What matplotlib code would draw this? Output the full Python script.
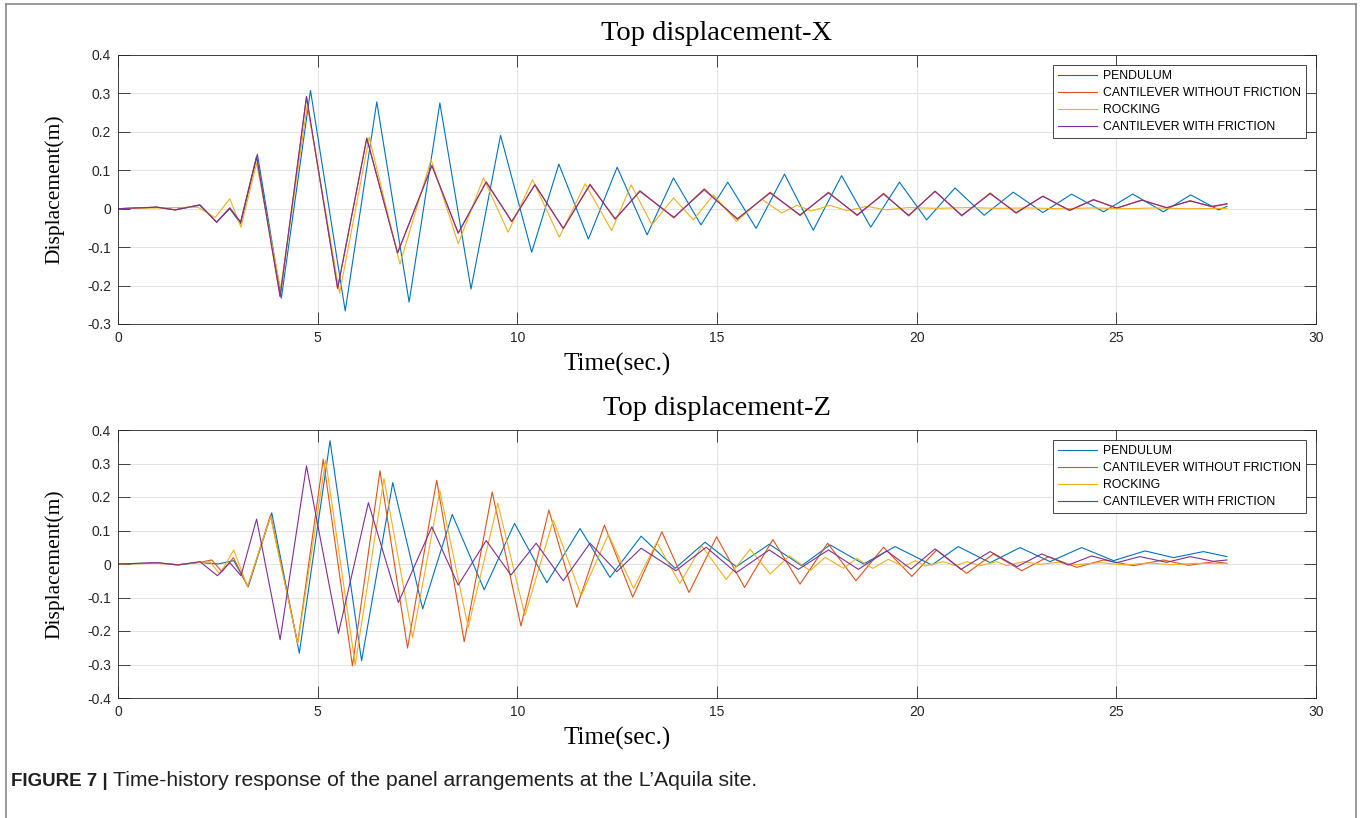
import matplotlib
matplotlib.use("Agg")
import matplotlib.pyplot as plt
from matplotlib.lines import Line2D

# peak / trough values (time in s, displacement in m)

# ---- Top displacement-X ----
x_pend_t = [0, 0.97, 1.43, 2.05, 2.47, 2.8, 3.07, 3.49, 4.09, 4.82, 5.69, 6.48, 7.29, 8.06, 8.84, 9.58,
            10.36, 11.04, 11.78, 12.5, 13.25, 13.91, 14.6, 15.27, 15.98, 16.69, 17.41, 18.12, 18.85, 19.57,
            20.25, 20.96, 21.69, 22.42, 23.16, 23.88, 24.68, 25.41, 26.18, 26.86, 27.56, 27.77]
x_pend_d = [0, 0.004, -0.003, 0.009, -0.035, 0.0, -0.039, 0.142, -0.233, 0.308, -0.266, 0.278, -0.243, 0.275, -0.209, 0.191,
            -0.113, 0.116, -0.079, 0.108, -0.068, 0.08, -0.042, 0.069, -0.051, 0.09, -0.056, 0.086, -0.048, 0.069,
            -0.029, 0.054, -0.017, 0.043, -0.01, 0.038, -0.008, 0.038, -0.008, 0.036, -0.003, 0.006]

x_cant_t = [0, 0.97, 1.43, 2.05, 2.47, 2.8, 3.07, 3.47, 4.06, 4.72, 5.5, 6.23, 7.0, 7.86, 8.52, 9.22, 9.86,
            10.44, 11.15, 11.82, 12.45, 13.07, 13.92, 14.68, 15.51, 16.33, 17.08, 17.79, 18.51, 19.17, 19.8,
            20.46, 21.13, 21.84, 22.49, 23.16, 23.83, 24.43, 25.01, 25.64, 26.26, 26.85, 27.39, 27.77]
x_cant_d = [0, 0.004, -0.003, 0.01, -0.035, 0.002, -0.035, 0.136, -0.229, 0.29, -0.208, 0.184, -0.116, 0.113, -0.064, 0.07, -0.034,
            0.063, -0.052, 0.064, -0.028, 0.047, -0.024, 0.052, -0.028, 0.043, -0.018, 0.043, -0.018, 0.04, -0.019,
            0.046, -0.019, 0.041, -0.012, 0.033, -0.005, 0.024, 0.001, 0.023, 0.002, 0.021, 0.005, 0.012]

x_rock_t = [0, 0.97, 1.5, 2.0, 2.43, 2.8, 3.08, 3.47, 4.07, 4.74, 5.55, 6.29, 7.06, 7.84, 8.52, 9.15, 9.77,
            10.38, 11.05, 11.7, 12.36, 12.85, 13.37, 13.91, 14.41, 14.91, 15.49, 16.12, 16.62, 17.0, 17.37,
            17.83, 18.25, 18.75, 19.24, 19.8, 20.5, 21.3, 22.0, 22.8, 23.6, 24.4, 25.2, 26.0, 26.8, 27.77]
x_rock_d = [0, 0.002, 0.003, 0.004, -0.023, 0.026, -0.048, 0.119, -0.209, 0.27, -0.22, 0.186, -0.144, 0.128, -0.091, 0.08, -0.061,
            0.075, -0.074, 0.065, -0.057, 0.062, -0.042, 0.028, -0.029, 0.036, -0.033, 0.025, -0.011, 0.009, -0.006,
            0.009, -0.005, 0.006, -0.003, 0.003, 0.001, 0.003, 0.001, 0.002, 0.0, 0.002, 0.0, 0.002, 0.0, 0.001]

x_fric_t = [0, 0.97, 1.43, 2.05, 2.47, 2.8, 3.07, 3.47, 4.06, 4.72, 5.5, 6.23, 7.0, 7.86, 8.52, 9.22, 9.86,
            10.44, 11.15, 11.82, 12.45, 13.07, 13.92, 14.68, 15.51, 16.33, 17.08, 17.79, 18.51, 19.17, 19.8,
            20.46, 21.13, 21.84, 22.49, 23.16, 23.83, 24.43, 25.01, 25.64, 26.26, 26.85, 27.39, 27.77]
x_fric_d = [0, 0.004, -0.003, 0.01, -0.035, 0.002, -0.035, 0.135, -0.228, 0.292, -0.207, 0.183, -0.115, 0.112, -0.063, 0.069, -0.033,
            0.062, -0.051, 0.062, -0.026, 0.045, -0.022, 0.049, -0.026, 0.041, -0.016, 0.041, -0.016, 0.038, -0.017,
            0.045, -0.017, 0.039, -0.01, 0.032, -0.004, 0.023, 0.002, 0.022, 0.003, 0.02, 0.006, 0.013]

# ---- Top displacement-Z ----
z_pend_t = [0, 1.0, 1.5, 2.0, 2.5, 2.9, 3.26, 3.85, 4.54, 5.31, 6.1, 6.88, 7.63, 8.37, 9.17, 9.93,
            10.74, 11.57, 12.32, 13.1, 13.95, 14.7, 15.48, 16.31, 17.12, 17.83, 18.67, 19.46,
            20.38, 21.04, 21.84, 22.59, 23.34, 24.13, 24.93, 25.72, 26.43, 27.18, 27.77]
z_pend_d = [0, 0.003, -0.003, 0.005, 0.0, 0.01, -0.068, 0.153, -0.266, 0.368, -0.289, 0.243, -0.134, 0.148, -0.077, 0.121,
            -0.056, 0.106, -0.04, 0.083, -0.013, 0.065, -0.008, 0.059, -0.005, 0.057, 0.0, 0.052,
            -0.003, 0.052, 0.004, 0.049, 0.007, 0.049, 0.01, 0.039, 0.019, 0.037, 0.022]

z_cant_t = [0, 1.0, 1.5, 2.0, 2.35, 2.6, 2.89, 3.25, 3.82, 4.5, 5.14, 5.87, 6.56, 7.25, 7.98, 8.67, 9.37,
            10.09, 10.79, 11.49, 12.18, 12.89, 13.62, 14.3, 14.99, 15.69, 16.4, 17.08, 17.77, 18.48, 19.17,
            19.88, 20.5, 21.25, 21.92, 22.63, 23.3, 24.01, 24.68, 25.43, 26.18, 26.8, 27.46, 27.77]
z_cant_d = [0, 0.003, -0.002, 0.004, 0.012, -0.023, 0.019, -0.068, 0.146, -0.236, 0.313, -0.304, 0.278, -0.251, 0.25, -0.232, 0.215,
            -0.185, 0.161, -0.129, 0.116, -0.099, 0.096, -0.085, 0.081, -0.07, 0.073, -0.06, 0.062, -0.05, 0.05,
            -0.037, 0.042, -0.028, 0.03, -0.02, 0.022, -0.01, 0.012, -0.005, 0.012, -0.004, 0.007, 0.002]

z_rock_t = [0, 1.0, 1.5, 2.0, 2.3, 2.55, 2.9, 3.24, 3.82, 4.5, 5.2, 5.94, 6.66, 7.38, 8.06, 8.77, 9.51,
            10.19, 10.9, 11.6, 12.28, 12.91, 13.49, 14.07, 14.62, 15.23, 15.83, 16.33, 16.81, 17.33, 17.71,
            18.17, 18.5, 18.9, 19.29, 19.67, 19.97, 20.22, 20.67, 20.96, 21.26, 21.59, 22.0, 22.25, 22.67,
            23.09, 23.51, 24.0, 24.6, 25.2, 25.8, 26.4, 27.0, 27.77]
z_rock_d = [0, 0.002, -0.002, 0.004, 0.007, -0.03, 0.042, -0.068, 0.141, -0.238, 0.31, -0.301, 0.255, -0.22, 0.218, -0.189, 0.181,
            -0.154, 0.131, -0.094, 0.088, -0.073, 0.065, -0.058, 0.054, -0.046, 0.044, -0.03, 0.024, -0.02, 0.02,
            -0.013, 0.017, -0.013, 0.014, -0.008, 0.01, -0.006, 0.007, -0.005, 0.007, -0.005, 0.007, -0.005, 0.007,
            -0.001, 0.005, -0.002, 0.004, -0.003, 0.003, -0.002, 0.002, 0.001]

z_fric_t = [0, 1.0, 1.5, 2.05, 2.49, 2.8, 3.08, 3.47, 4.06, 4.72, 5.52, 6.27, 7.02, 7.86, 8.52, 9.22, 9.84,
            10.47, 11.15, 11.82, 12.49, 13.1, 13.97, 14.73, 15.48, 16.31, 17.04, 17.79, 18.54, 19.25, 19.86,
            20.46, 21.11, 21.84, 22.51, 23.13, 23.8, 24.38, 25.01, 25.59, 26.26, 26.85, 27.43, 27.77]
z_fric_d = [0, 0.004, -0.003, 0.007, -0.035, 0.004, -0.035, 0.134, -0.226, 0.293, -0.207, 0.183, -0.115, 0.111, -0.063, 0.07, -0.033,
            0.062, -0.05, 0.062, -0.023, 0.047, -0.02, 0.05, -0.026, 0.042, -0.016, 0.042, -0.016, 0.039, -0.015,
            0.045, -0.016, 0.037, -0.008, 0.03, -0.003, 0.024, 0.004, 0.022, 0.005, 0.022, 0.008, 0.012]

labels = ["PENDULUM", "CANTILEVER WITHOUT FRICTION", "ROCKING", "CANTILEVER WITH FRICTION"]
colors = ["#0072BD", "#D95319", "#EDB120", "#7E2F8E"]

W, H = 1362, 818
fig = plt.figure(figsize=(W / 100, H / 100), dpi=100)

serif = "Liberation Serif"
sans = "Liberation Sans"


def make_panel(rect, title, series, ylim, yticks):
    ax = fig.add_axes(rect)
    for (t, d), c, lab in zip(series, colors, labels):
        ax.plot(t, d, color=c, lw=0.8, label=lab)
    ax.set_xlim(0, 30)
    ax.set_ylim(*ylim)
    ax.set_xticks([0, 5, 10, 15, 20, 25, 30])
    ax.set_yticks(yticks)
    ax.set_yticklabels([("%g" % v) for v in yticks])
    ax.grid(True, color="#e3e3e3", lw=0.8)
    ax.set_axisbelow(True)
    ax.tick_params(direction="in", length=8.5, width=0.6, color="#262626",
                   top=True, right=True, labelsize=10, labelcolor="#262626", pad=5)
    for lbl in ax.get_xticklabels() + ax.get_yticklabels():
        lbl.set_fontfamily(sans)
    for s in ax.spines.values():
        s.set_color("#262626")
        s.set_linewidth(0.6)
    ax.set_title(title, fontfamily=serif, fontsize=20.5, pad=11)
    ax.set_xlabel("Time(sec.)", fontfamily=serif, fontsize=18)
    # the x label sits left of centre in the reference
    ax.xaxis.set_label_coords(0.4166, -0.107)
    ax.set_ylabel("Displacement(m)", fontfamily=serif, fontsize=15.5, labelpad=16)
    leg = ax.legend(loc="upper right", borderaxespad=0.85, fancybox=False, framealpha=1,
                    edgecolor="#262626", prop={"family": sans, "size": 8.8},
                    handlelength=3.2, handletextpad=0.45, labelspacing=0.4, borderpad=0.4)
    leg.get_frame().set_linewidth(0.6)
    return ax


make_panel([118 / W, 1 - 324 / H, 1198 / W, 269 / H], "Top displacement-X",
           [(x_pend_t, x_pend_d), (x_cant_t, x_cant_d), (x_rock_t, x_rock_d), (x_fric_t, x_fric_d)],
           (-0.3, 0.4), [-0.3, -0.2, -0.1, 0, 0.1, 0.2, 0.3, 0.4])
make_panel([118 / W, 1 - 698 / H, 1198 / W, 268 / H], "Top displacement-Z",
           [(z_pend_t, z_pend_d), (z_cant_t, z_cant_d), (z_rock_t, z_rock_d), (z_fric_t, z_fric_d)],
           (-0.4, 0.4), [-0.4, -0.3, -0.2, -0.1, 0, 0.1, 0.2, 0.3, 0.4])

# frame around the whole figure (bottom edge runs off the image)
for xs, ys in [([6, 6], [0, H - 4]), ([6, 1356], [H - 4, H - 4]), ([1356, 1356], [0, H - 4])]:
    fig.add_artist(Line2D([x / W for x in xs], [y / H for y in ys], color="#8a8a8a", lw=1.2,
                          transform=fig.transFigure))

# caption
cap1 = fig.text(11 / W, 1 - 781 / H, "FIGURE 7 |", fontfamily=sans, fontweight="bold",
                fontsize=13.5, va="center", color="#231f20")
fig.canvas.draw()
bb = cap1.get_window_extent()
fig.text((bb.x1 + 5) / W, 1 - 781 / H, "Time-history response of the panel arrangements at the L\u2019Aquila site.",
         fontfamily=sans, fontsize=15.2, va="center", color="#231f20")

fig.savefig("out.png", dpi=100)
